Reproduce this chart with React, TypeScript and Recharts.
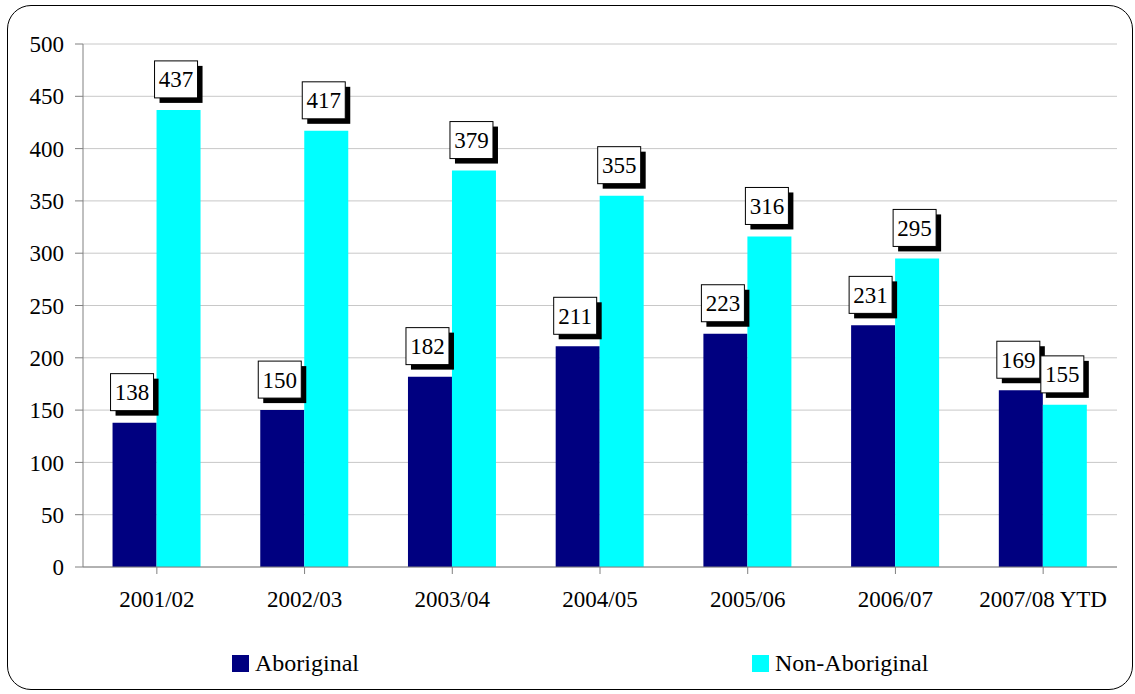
import { BarChart, Bar, XAxis, YAxis, CartesianGrid, Legend, LabelList } from "recharts";

const years = ["2001/02", "2002/03", "2003/04", "2004/05", "2005/06", "2006/07", "2007/08 YTD"];
const aboriginal = [138, 150, 182, 211, 223, 231, 169];
const nonAboriginal = [437, 417, 379, 355, 316, 295, 155];
const yTicks = [0, 50, 100, 150, 200, 250, 300, 350, 400, 450, 500];

const FONT = '"Times New Roman", "Liberation Serif", "DejaVu Serif", serif';

const chartData = years.map((year, i) => ({
  year,
  aboriginal: aboriginal[i],
  nonAboriginal: nonAboriginal[i],
}));

// boxed value label with a drop shadow, like the Excel callouts
function BoxLabel(props: any) {
  const { x, y, value } = props;
  const w = 43;
  const h = 37;
  const bx = x - 2;
  const by = y - 12 - h;
  return (
    <g>
      <rect x={bx + 5} y={by + 5} width={w} height={h} fill="#000" />
      <rect x={bx} y={by} width={w} height={h} fill="#fff" stroke="#000" strokeWidth={1} />
      <text
        x={bx + w / 2}
        y={by + h / 2 + 8}
        textAnchor="middle"
        style={{ fontFamily: FONT }}
        fontSize={23}
        fill="#000"
      >
        {value}
      </text>
    </g>
  );
}

function LegendContent() {
  const items = [
    { label: "Aboriginal", color: "#000080", left: 232 },
    { label: "Non-Aboriginal", color: "#00FFFF", left: 752 },
  ];
  return (
    <div style={{ position: "relative", height: 30 }}>
      {items.map((it) => (
        <div
          key={it.label}
          style={{
            position: "absolute",
            left: it.left,
            top: 0,
            display: "flex",
            alignItems: "center",
            fontFamily: FONT,
            fontSize: 24,
            color: "#000",
          }}
        >
          <span style={{ width: 17, height: 17, background: it.color, marginRight: 6, display: "inline-block" }} />
          {it.label}
        </div>
      ))}
    </div>
  );
}

export default function App() {
  return (
    <div style={{ position: "absolute", left: 0, top: 0, width: 1135, height: 694, background: "#fff", fontFamily: FONT }}>
      <div
        style={{
          position: "absolute",
          left: 7,
          top: 5,
          width: 1124,
          height: 683,
          border: "1.5px solid #000",
          borderRadius: 24,
        }}
      />
      <BarChart
        width={1135}
        height={694}
        data={chartData}
        margin={{ top: 44, right: 18, left: 22, bottom: 57 }}
        barGap={0}
        barCategoryGap="20%"
        style={{ fontFamily: FONT }}
      >
        <CartesianGrid vertical={false} stroke="#c8c8c8" strokeWidth={1} />
        <XAxis
          dataKey="year"
          height={40}
          stroke="#808080"
          tickSize={7}
          tickMargin={17}
          interval={0}
          tick={{ fill: "#000", fontSize: 23, style: { fontFamily: FONT } }}
        />
        <YAxis
          width={61}
          domain={[0, 500]}
          ticks={yTicks}
          stroke="#808080"
          tickSize={8}
          tickMargin={11}
          tick={{ fill: "#000", fontSize: 23, style: { fontFamily: FONT } }}
        />
        <Legend
          content={<LegendContent />}
          wrapperStyle={{ left: 0, top: 650, width: 1135 }}
        />
        <Bar dataKey="aboriginal" name="Aboriginal" fill="#000080" isAnimationActive={false}>
          <LabelList dataKey="aboriginal" content={<BoxLabel />} />
        </Bar>
        <Bar dataKey="nonAboriginal" name="Non-Aboriginal" fill="#00FFFF" isAnimationActive={false}>
          <LabelList dataKey="nonAboriginal" content={<BoxLabel />} />
        </Bar>
      </BarChart>
    </div>
  );
}
